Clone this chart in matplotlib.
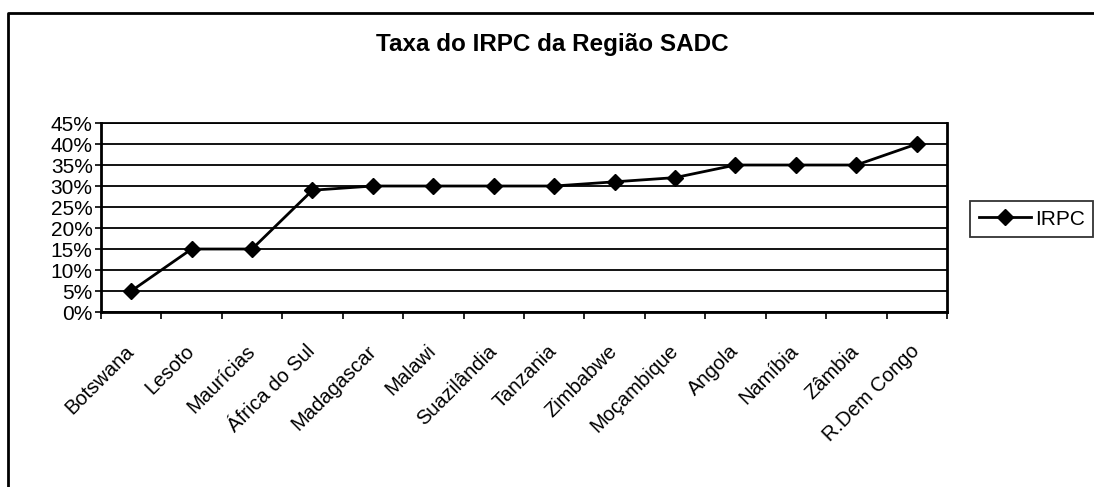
import matplotlib.pyplot as plt
from matplotlib.lines import Line2D
import numpy as np

plt.rcParams['font.family'] = ['Liberation Sans', 'DejaVu Sans']

# Data
paises = ['Botswana', 'Lesoto', 'Maurícias', 'África do Sul', 'Madagascar',
          'Malawi', 'Suazilândia', 'Tanzania', 'Zimbabwe', 'Moçambique',
          'Angola', 'Namíbia', 'Zâmbia', 'R.Dem Congo']
irpc = [5, 15, 15, 29, 30, 30, 30, 30, 31, 32, 35, 35, 35, 40]
y_ticks = [0, 5, 10, 15, 20, 25, 30, 35, 40, 45]

fig = plt.figure(figsize=(10.94, 4.87), dpi=100)
ax = fig.add_axes([0.0923, 0.3593, 0.7733, 0.3881])

x = np.arange(len(paises))
ax.plot(x, irpc, color='black', lw=2, marker='D', ms=8, label='IRPC', zorder=3)

ax.set_xlim(-0.5, len(paises) - 0.5)
ax.set_ylim(0, 45)

# gridlines
ax.set_yticks(y_ticks)
ax.set_yticklabels([f'{v}%' for v in y_ticks], fontsize=15)
ax.yaxis.grid(True, color='black', lw=1.3)
ax.set_axisbelow(True)

# ticks at category boundaries, labels at centres
ax.set_xticks(np.arange(len(paises) + 1) - 0.5)
ax.set_xticklabels([])
ax.set_xticks(x, minor=True)
ax.set_xticklabels(paises, minor=True, rotation=45, ha='right', va='center',
                   rotation_mode='anchor', fontsize=14.5)
ax.tick_params(axis='x', which='minor', length=0, pad=26)
ax.tick_params(axis='x', which='major', length=5, width=1.2, direction='out')
ax.tick_params(axis='y', length=4, width=1.2, direction='out', pad=2)

for s in ['left', 'bottom', 'right']:
    ax.spines[s].set_linewidth(2)
ax.spines['top'].set_linewidth(1.3)

fig.text(0.505, 1 - 45 / 487, 'Taxa do IRPC da Região SADC', ha='center',
         va='center', fontsize=17.5, fontweight='bold')

leg = fig.legend(handles=[Line2D([], [], color='black', lw=2, marker='D', ms=8)],
                 labels=['IRPC'], loc='center left',
                 bbox_to_anchor=(960 / 1094, 1 - 219 / 487), fontsize=15,
                 frameon=True, fancybox=False, handlelength=2.5,
                 handletextpad=0.2, borderpad=0.4)
leg.get_frame().set_edgecolor('black')
leg.get_frame().set_linewidth(1.3)

# outer frame (left and top only, as in the scan)
fig.add_artist(Line2D([8 / 1094, 8 / 1094, 1], [0, 1 - 13 / 487, 1 - 13 / 487],
                      color='black', lw=2, transform=fig.transFigure))

plt.savefig('out.png', dpi=100)
